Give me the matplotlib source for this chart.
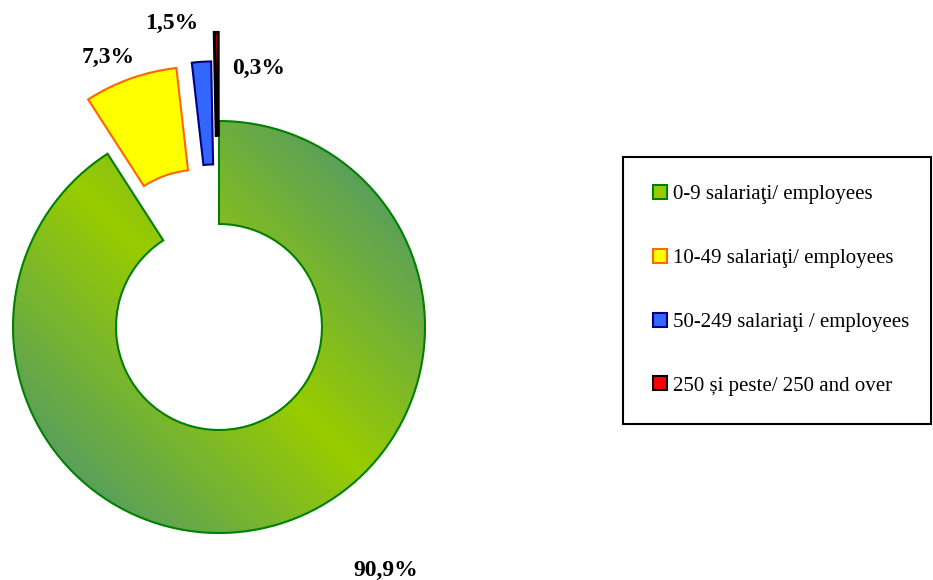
import numpy as np
import matplotlib.pyplot as plt
from matplotlib.colors import LinearSegmentedColormap
from matplotlib.patches import Patch, Rectangle

# data
categories = ['0-9 salariaţi/ employees', '10-49 salariaţi/ employees',
              '50-249 salariaţi / employees', '250 și peste/ 250 and over']
shares = [90.9, 7.3, 1.5, 0.3]
pct_labels = ['90,9%', '7,3%', '1,5%', '0,3%']

# styles
face_colors = ['#99CC00', '#FFFF00', '#3366FF', '#FF0000']
edge_colors = ['#008000', '#FF6600', '#000080', '#000000']
edge_widths = [1.5, 1.5, 1.5, 2.2]
explode = [0, 0.28, 0.29, 0.43]
label_pos = [(0.81, -1.18), (-0.54, 1.31), (-0.23, 1.475), (0.19, 1.255)]
serif = 'Liberation Serif'

W, H = 933, 580
R = 206            # outer radius in pixels
cx, cy = 219, 253  # pie centre, pixels from bottom left

fig = plt.figure(figsize=(W / 100, H / 100), dpi=100)
ax = fig.add_axes([0, 0, 440 / W, 1])

wedges, _ = ax.pie(shares, radius=1, startangle=90, counterclock=False,
                   explode=explode, colors=face_colors,
                   wedgeprops=dict(width=0.5))
for w, ec, lw in zip(wedges, edge_colors, edge_widths):
    w.set_edgecolor(ec)
    w.set_linewidth(lw)
    w.set_zorder(2)

# green slice gets a diagonal reflected gradient
wedges[0].set_facecolor('none')
g = np.linspace(-1, 1, 500)
X, Y = np.meshgrid(g, g)
T = np.clip(np.abs(X + Y) / np.sqrt(2), 0, 1)
cmap = LinearSegmentedColormap.from_list('grn', ['#99CC00', '#5AA05A'])
im = ax.imshow(T, extent=(-1, 1, -1, 1), origin='lower', cmap=cmap,
               vmin=0, vmax=1, zorder=1, interpolation='bilinear')
im.set_clip_path(wedges[0])

for (x, y), s in zip(label_pos, pct_labels):
    ax.text(x, y, s, ha='center', va='center', fontsize=17,
            fontweight='bold', family=serif)

ax.set_xlim(-cx / R, (440 - cx) / R)
ax.set_ylim(-cy / R, (H - cy) / R)
ax.set_aspect('auto')
ax.axis('off')

# legend
handles = [Patch(facecolor=fc, edgecolor=ec, linewidth=1.5)
           for fc, ec in zip(face_colors, edge_colors)]
fig.legend(handles, categories, loc='upper left',
           bbox_to_anchor=(653 / W, 1 - 185 / H), frameon=False,
           prop={'family': serif, 'size': 15},
           handlelength=0.67, handleheight=0.67, handletextpad=0.3,
           labelspacing=2.13, borderpad=0, borderaxespad=0)
fig.patches.append(Rectangle((623 / W, 1 - 424 / H), (931 - 623) / W,
                             (424 - 157) / H, transform=fig.transFigure,
                             fill=False, edgecolor='black', linewidth=1.5))

fig.savefig('out.png', dpi=100)
